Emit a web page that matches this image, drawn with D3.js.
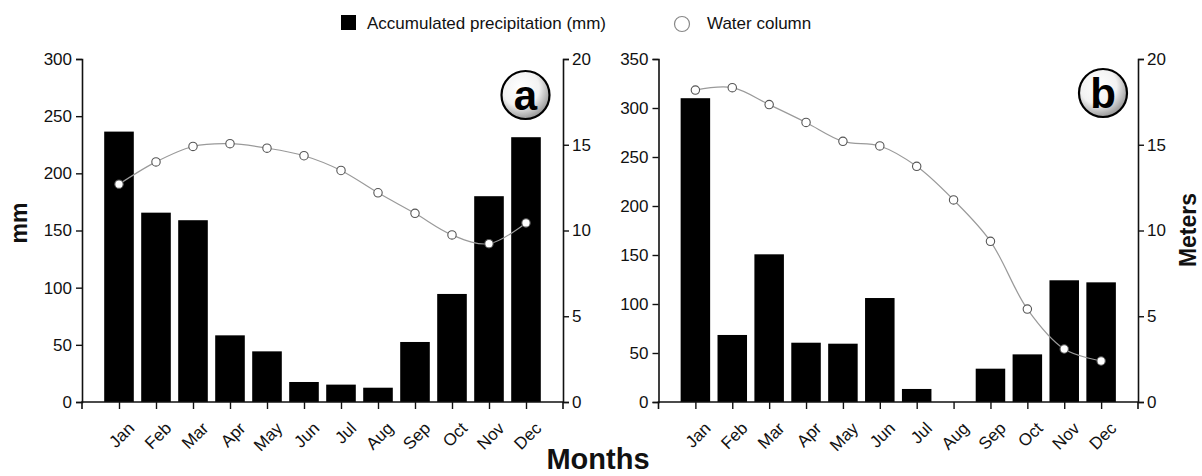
<!DOCTYPE html>
<html><head><meta charset="utf-8">
<script src="https://cdn.jsdelivr.net/npm/d3@7"></script>
<style>body{margin:0;background:#fff}svg{display:block;font-family:"Liberation Sans",Arial,sans-serif}</style>
</head><body><svg id="c" width="1202" height="476"></svg>
<script>
const months = ["Jan","Feb","Mar","Apr","May","Jun","Jul","Aug","Sep","Oct","Nov","Dec"];
const precipA = [236.5,165.6,159,58.3,44.3,17.5,15.2,12.5,52.5,94.5,180,231.6];
const waterA = [12.7,14.0,14.9,15.06,14.8,14.36,13.5,12.2,11.0,9.74,9.23,10.44];
const precipB = [310,68.4,150.7,60.5,59.5,106.1,13.3,0,34,48.6,124.2,122.1];
const waterB = [18.19,18.33,17.34,16.3,15.2,14.93,13.74,11.78,9.37,5.42,3.09,2.39];
const mmTicksA = [0,50,100,150,200,250,300];
const mmTicksB = [0,50,100,150,200,250,300,350];
const mTicks = [0,5,10,15,20];

const svg = d3.select("#c");
const defs = svg.append("defs");
const g = defs.append("radialGradient").attr("id","badge").attr("cx","40%").attr("cy","35%").attr("r","70%");
g.append("stop").attr("offset","0%").attr("stop-color","#ffffff");
g.append("stop").attr("offset","55%").attr("stop-color","#f2f2f2");
g.append("stop").attr("offset","100%").attr("stop-color","#8a8a8a");

function panel(opt){
  const {x0,x1,y0,y1,precip,water,maxMM,mmTicks,letter,bx,by} = opt;
  const root = svg.append("g");
  const x = d3.scalePoint().domain(months).range([x0,x1]).padding(1);
  const y = d3.scaleLinear().domain([0,maxMM]).range([y1,y0]);
  const y2 = d3.scaleLinear().domain([0,20]).range([y1,y0]);
  const bw = x.step()*0.8;
  root.append("g").selectAll("rect").data(precip).join("rect")
    .attr("x",(d,i)=>x(months[i])-bw/2).attr("width",bw)
    .attr("y",d=>y(d)).attr("height",d=>y1-y(d)).attr("fill","#000");
  const ax = root.append("g");
  const left = ax.append("g").attr("transform",`translate(${x0},0)`)
    .call(d3.axisLeft(y).tickValues(mmTicks).tickSize(6).tickPadding(4));
  const right = ax.append("g").attr("transform",`translate(${x1},0)`)
    .call(d3.axisRight(y2).tickValues(mTicks).tickSize(6).tickPadding(3));
  const bottom = ax.append("g").attr("transform",`translate(0,${y1})`)
    .call(d3.axisBottom(x).tickSize(7).tickFormat(""));
  [left,right,bottom].forEach(a=>{
    a.select(".domain").attr("stroke","#111").attr("stroke-width",1.6);
    a.selectAll(".tick line").attr("stroke","#111").attr("stroke-width",1.4);
    a.selectAll("text").attr("font-size",17).attr("fill","#111").attr("font-family","Liberation Sans, Arial, sans-serif");
  });
  bottom.select(".domain").attr("d",`M${x0},7V0H${x1}V7`);
  root.append("g").selectAll("text").data(months).join("text")
    .attr("transform",d=>`translate(${x(d)+8},${y1+19}) rotate(-45)`)
    .attr("text-anchor","end").attr("dy","0.7em").attr("font-size",17).attr("fill","#111").text(d=>d);
  const line = d3.line().x((d,i)=>x(months[i])).y(d=>y2(d)).curve(d3.curveCatmullRom.alpha(0.5));
  root.append("path").attr("d",line(water)).attr("fill","none").attr("stroke","#9a9a9a").attr("stroke-width",1.2);
  root.append("g").selectAll("circle").data(water).join("circle")
    .attr("cx",(d,i)=>x(months[i])).attr("cy",d=>y2(d)).attr("r",4.2)
    .attr("fill","#fff").attr("stroke","#555").attr("stroke-width",1.1);
  root.append("circle").attr("cx",bx).attr("cy",by).attr("r",24).attr("fill","url(#badge)").attr("stroke","#000").attr("stroke-width",2.2);
  root.append("text").attr("x",bx).attr("y",by).attr("dy","0.36em").attr("text-anchor","middle")
    .attr("font-size",42).attr("font-weight","bold").attr("fill","#000").text(letter);
}

panel({x0:82,x1:563,y0:59,y1:402,precip:precipA,water:waterA,maxMM:300,mmTicks:mmTicksA,letter:"a",bx:525.5,by:95});
panel({x0:658.5,x1:1138,y0:59,y1:402,precip:precipB,water:waterB,maxMM:350,mmTicks:mmTicksB,letter:"b",bx:1103,by:93});

svg.append("text").attr("transform","translate(27,223) rotate(-90)").attr("text-anchor","middle")
  .attr("font-size",23).attr("font-weight","bold").attr("fill","#111").text("mm");
svg.append("text").attr("transform","translate(1196,230) rotate(-90)").attr("text-anchor","middle")
  .attr("font-size",23).attr("font-weight","bold").attr("fill","#111").text("Meters");
svg.append("text").attr("x",598).attr("y",469).attr("text-anchor","middle")
  .attr("font-size",29).attr("font-weight","bold").attr("fill","#111").text("Months");

const lg = svg.append("g");
lg.append("rect").attr("x",341).attr("y",15).attr("width",15).attr("height",15).attr("fill","#000");
lg.append("text").attr("x",367).attr("y",29).attr("font-size",17).attr("fill","#111").text("Accumulated precipitation (mm)");
lg.append("circle").attr("cx",682).attr("cy",24).attr("r",7.5).attr("fill","#fff").attr("stroke","#888").attr("stroke-width",1.2);
lg.append("text").attr("x",707).attr("y",29).attr("font-size",17).attr("fill","#111").text("Water column");
</script></body></html>
